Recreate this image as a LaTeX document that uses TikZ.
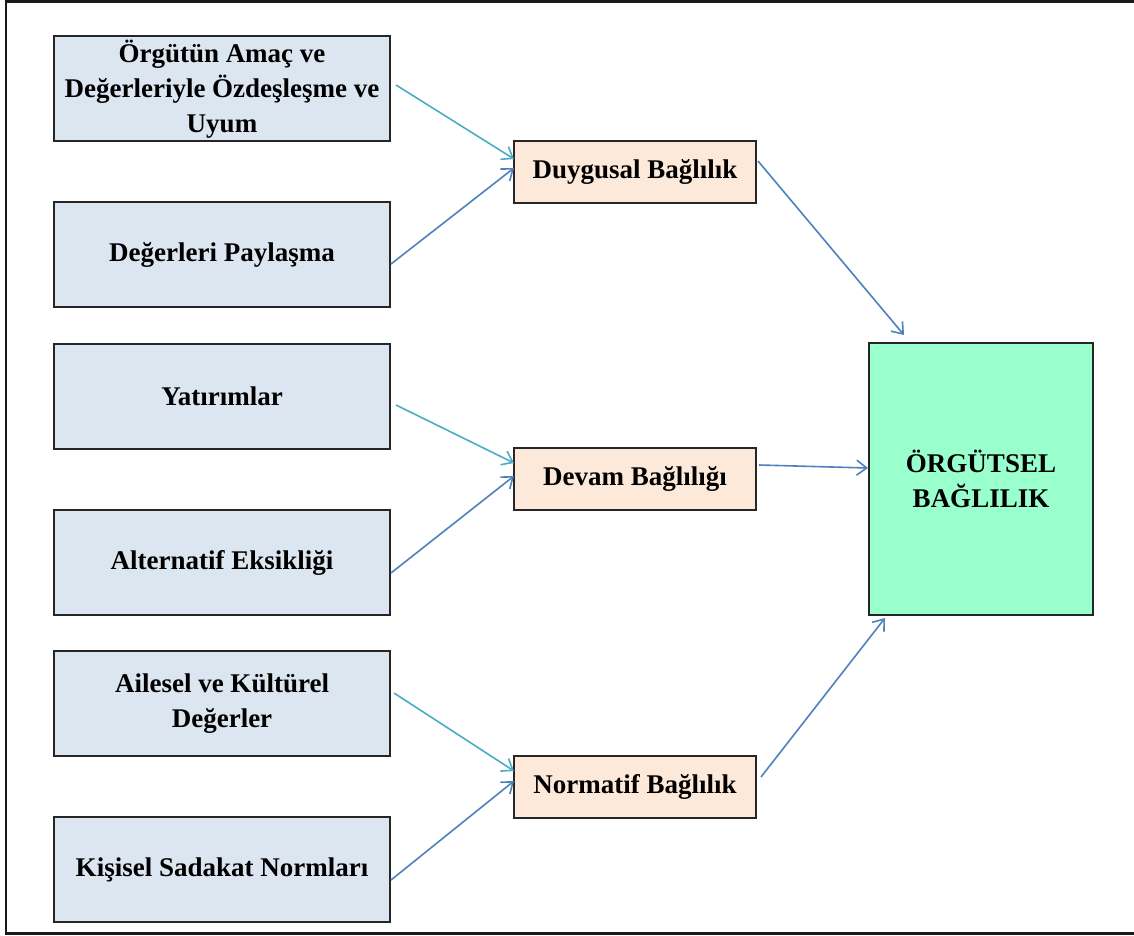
\documentclass[tikz,border=0pt]{standalone}
\usepackage{fontspec}
\setmainfont{Liberation Serif}
\usetikzlibrary{arrows.meta}

\definecolor{srcfill}{HTML}{DCE6F1}
\definecolor{midfill}{HTML}{FDE9D9}
\definecolor{goalfill}{HTML}{99FFCC}
\definecolor{linkcyan}{HTML}{4BACC6}
\definecolor{linkblue}{HTML}{4F81BD}

\tikzset{
  every node/.style={font=\fontsize{27}{35}\selectfont\bfseries, align=center, inner sep=0pt},
  srcbox/.style={draw=black!85, line width=2pt, fill=srcfill, minimum width=336pt, minimum height=105pt},
  midbox/.style={draw=black!85, line width=2pt, fill=midfill, minimum width=242pt, minimum height=62pt},
  goalbox/.style={draw=black!85, line width=2pt, fill=goalfill, minimum width=224pt, minimum height=272pt},
  link/.style={line width=1.6pt, -{Straight Barb[length=10pt, width=15pt, line width=1.6pt]}},
  upper/.style={link, draw=linkcyan},
  lower/.style={link, draw=linkblue}
}

\begin{document}
\begin{tikzpicture}[x=1pt, y=-1pt]
  \clip (0,0) rectangle (1134,936);
  \fill[white] (0,0) rectangle (1134,936);
  % outer frame (its right side lies beyond the page)
  \draw[line width=2.5pt, black!90] (6,1.5) rectangle (1150,933.5);

  % source factors
  \node[srcbox] (b1) at (222,89)    {Örgütün Amaç ve\\Değerleriyle Özdeşleşme ve\\Uyum};
  \node[srcbox] (b2) at (222,254.5) {Değerleri Paylaşma};
  \node[srcbox] (b3) at (222,396.5) {Yatırımlar};
  \node[srcbox] (b4) at (222,562.5) {Alternatif Eksikliği};
  \node[srcbox] (b5) at (222,703.5) {Ailesel ve Kültürel\\Değerler};
  \node[srcbox] (b6) at (222,869.5) {Kişisel Sadakat Normları};

  % commitment types
  \node[midbox] (d1) at (635,172)   {Duygusal Bağlılık};
  \node[midbox] (d2) at (635,479)   {Devam Bağlılığı};
  \node[midbox] (d3) at (635,786.5) {Normatif Bağlılık};

  % overall commitment
  \node[goalbox] (g) at (981,479) {ÖRGÜTSEL\\BAĞLILIK};

  % links into the commitment types
  \draw[upper] ([shift={(5,-4)}]b1.east)    -- ([shift={(1,-13)}]d1.west);
  \draw[lower] ([shift={(0,9.5)}]b2.east)   -- ([shift={(1,-4)}]d1.west);
  \draw[upper] ([shift={(5,8.5)}]b3.east)   -- ([shift={(1,-16)}]d2.west);
  \draw[lower] ([shift={(0,10.5)}]b4.east)  -- ([shift={(1,-3)}]d2.west);
  \draw[upper] ([shift={(3,-10.5)}]b5.east) -- ([shift={(1,-15.5)}]d3.west);
  \draw[lower] ([shift={(0,10.5)}]b6.east)  -- ([shift={(1,-5.5)}]d3.west);

  % links into overall commitment
  \draw[lower] ([shift={(1,-11)}]d1.east)   -- ([shift={(36,-7)}]g.north west);
  \draw[lower] ([shift={(2,-14)}]d2.east)   -- ([shift={(0,-11)}]g.west);
  \draw[lower] ([shift={(4,-9.5)}]d3.east)  -- ([shift={(17,2)}]g.south west);
\end{tikzpicture}
\end{document}
